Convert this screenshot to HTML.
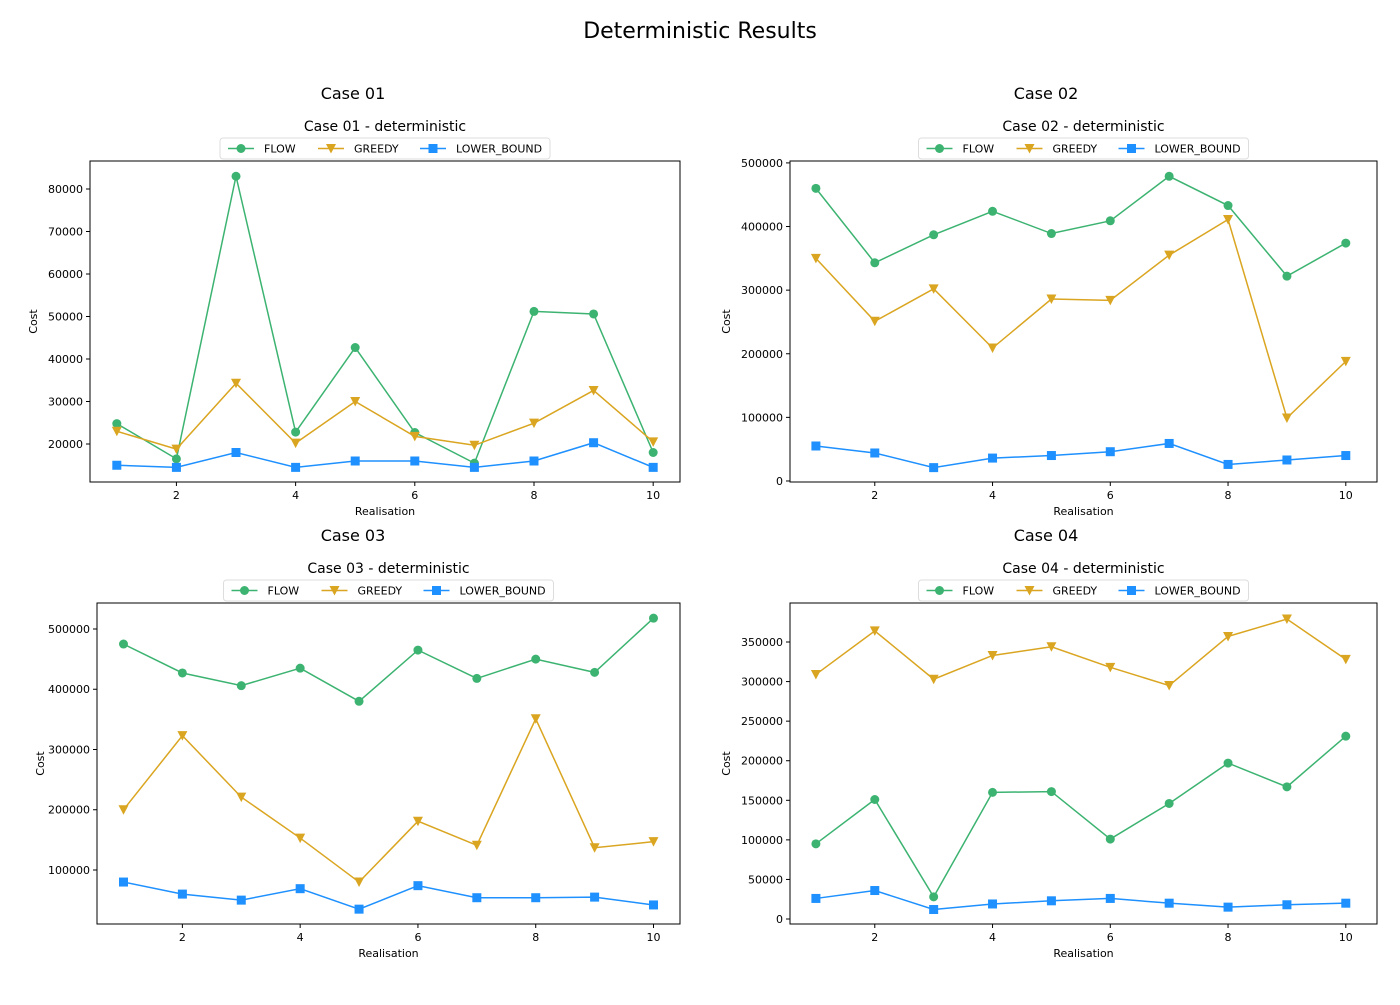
<!DOCTYPE html>
<html><head><meta charset="utf-8"><style>
body{margin:0;background:#fff;font-family:"Liberation Sans","DejaVu Sans",sans-serif}
svg text{font-family:"DejaVu Sans","Liberation Sans",sans-serif}
</style></head><body>
<svg id="fig" width="1400" height="1000" xmlns="http://www.w3.org/2000/svg">
<text x="700" y="38" font-size="22" text-anchor="middle">Deterministic Results</text>
</svg>
<script>
const caseNames = ["Case 01","Case 02","Case 03","Case 04"];
const xValues = [1,2,3,4,5,6,7,8,9,10];
const xTicks = [2,4,6,8,10];
const flow1 = [24800,16500,83000,22800,42700,22700,15500,51200,50600,18000];
const greedy1 = [23000,18800,34300,20200,30000,21800,19700,24900,32600,20500];
const lb1 = [15000,14500,18000,14500,16000,16000,14500,16000,20300,14500];
const flow2 = [460000,343000,387000,424000,389000,409000,479000,433000,322000,374000];
const greedy2 = [350000,251000,302000,209000,286000,284000,355000,411000,99000,188000];
const lb2 = [55000,44000,21000,36000,40000,46000,59000,26000,33000,40000];
const flow3 = [475000,427000,406000,435000,380000,465000,418000,450000,428000,518000];
const greedy3 = [200000,323000,221000,153000,80000,181000,141000,351000,137000,147000];
const lb3 = [80000,60000,50000,69000,35000,74000,54000,54000,55000,42000];
const flow4 = [95000,151000,28000,160000,161000,101000,146000,197000,167000,231000];
const greedy4 = [309000,364000,303000,333000,344000,318000,295000,357000,379000,328000];
const lb4 = [26000,36000,12000,19000,23000,26000,20000,15000,18000,20000];
const yTicks1 = [20000,30000,40000,50000,60000,70000,80000];
const yTicks2 = [0,100000,200000,300000,400000,500000];
const yTicks3 = [100000,200000,300000,400000,500000];
const yTicks4 = [0,50000,100000,150000,200000,250000,300000,350000];
const seriesNames = ["FLOW","GREEDY","LOWER_BOUND"];

const NS="http://www.w3.org/2000/svg";
const svg=document.getElementById('fig');
function mk(tag,attrs,parent){const e=document.createElementNS(NS,tag);for(const k in attrs)e.setAttribute(k,attrs[k]);(parent||svg).appendChild(e);return e;}
const colors=["#3cb371","#daa520","#1e90ff"];
const panels=[
 {L:90,R:680,T:161,B:482,ymin:11059,ymax:86588,yt:yTicks1,data:[flow1,greedy1,lb1],cx:353,cy:0,xmin:0.55,xmax:10.45},
 {L:790,R:1377,T:161,B:482,ymin:-1600,ymax:503000,yt:yTicks2,data:[flow2,greedy2,lb2],cx:1046,cy:0,xmin:0.56,xmax:10.53},
 {L:97,R:680,T:603,B:924,ymin:10373,ymax:543150,yt:yTicks3,data:[flow3,greedy3,lb3],cx:353,cy:442,xmin:0.55,xmax:10.45},
 {L:790,R:1377,T:603,B:924,ymin:-6300,ymax:399280,yt:yTicks4,data:[flow4,greedy4,lb4],cx:1046,cy:442,xmin:0.56,xmax:10.53}
];
function marker(g,type,x,y,c){
  if(type===0) return mk('circle',{cx:x,cy:y,r:4.5,fill:c},g);
  if(type===1) return mk('polygon',{points:`${x-5},${y-4.5} ${x+5},${y-4.5} ${x},${y+5}`,fill:c},g);
  return mk('rect',{x:x-4.5,y:y-4.5,width:9,height:9,fill:c},g);
}
panels.forEach((p,pi)=>{
  const g=mk('g',{});
  
  
  const sx=v=>p.L+(v-p.xmin)/(p.xmax-p.xmin)*(p.R-p.L);
  const sy=v=>p.B-(v-p.ymin)/(p.ymax-p.ymin)*(p.B-p.T);
  const ct=mk('text',{x:p.cx,y:99+p.cy,'font-size':16,'text-anchor':'middle'},g);ct.textContent=caseNames[pi];
  
  const mid=(p.L+p.R)/2;
  const st=mk('text',{x:mid,y:p.T-30,'font-size':14,'text-anchor':'middle'},g);st.textContent=caseNames[pi]+' - deterministic';
  
  mk('rect',{x:p.L,y:p.T,width:p.R-p.L,height:p.B-p.T,fill:'none',stroke:'#000','stroke-width':1},g);
  xTicks.forEach(t=>{const x=sx(t);mk('line',{x1:x,x2:x,y1:p.B,y2:p.B+4,stroke:'#000'},g);
    const tx=mk('text',{x:x,y:p.B+17,'font-size':11,'text-anchor':'middle'},g);tx.textContent=t;
    });
  p.yt.forEach(t=>{const y=sy(t);mk('line',{x1:p.L-4,x2:p.L,y1:y,y2:y,stroke:'#000'},g);
    const tx=mk('text',{x:p.L-7,y:y+4,'font-size':11,'text-anchor':'end'},g);tx.textContent=t;
    });
  const xl=mk('text',{x:mid,y:p.B+33,'font-size':11,'text-anchor':'middle'},g);xl.textContent='Realisation';
  
  const yl=mk('text',{x:0,y:0,'font-size':11,'text-anchor':'middle',transform:`translate(${p.L-(pi==1||pi==3?60:53)},${(p.T+p.B)/2}) rotate(-90)`},g);yl.textContent='Cost';
  
  p.data.forEach((d,si)=>{
    const sg=mk('g',{},g);
    
    
    mk('polyline',{points:d.map((v,i)=>sx(xValues[i])+','+sy(v)).join(' '),fill:'none',stroke:colors[si],'stroke-width':1.5},sg);
    d.forEach((v,i)=>{const m=marker(sg,si,sx(xValues[i]),sy(v),colors[si]);
      });
  });
  const lw=330,lx=mid-lw/2,ly=p.T-23;
  const lg=mk('g',{},g);
  
  mk('rect',{x:lx,y:ly,width:lw,height:21,rx:3,fill:'#fff',stroke:'#ddd'},lg);
  const offs=[8,98,200];
  seriesNames.forEach((n,si)=>{
    const x0=lx+offs[si],yc=ly+10.5;
    mk('line',{x1:x0,x2:x0+26,y1:yc,y2:yc,stroke:colors[si],'stroke-width':1.5},lg);
    marker(lg,si,x0+13,yc,colors[si]);
    const t=mk('text',{x:x0+36,y:yc+4,'font-size':11},lg);t.textContent=n;
    
  });
});
</script>
</body></html>
